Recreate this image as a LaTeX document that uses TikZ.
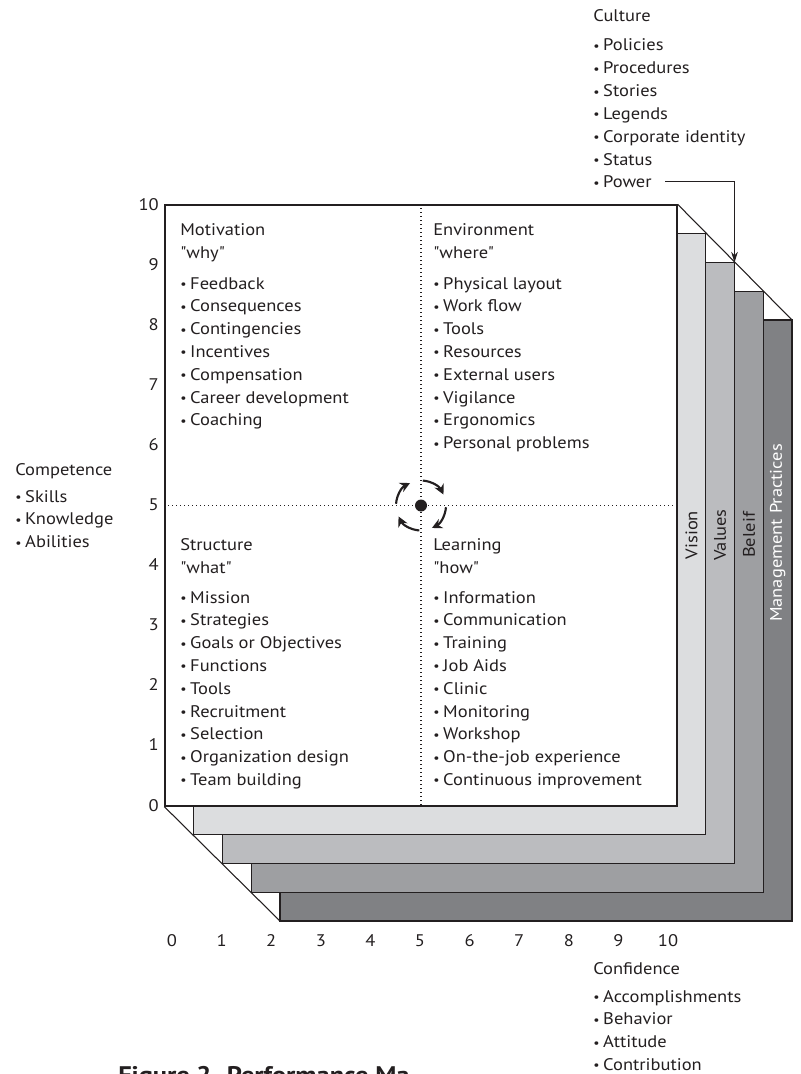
\documentclass[tikz,border=0pt]{standalone}
\usepackage{fontspec}
\newfontfamily\mainf{PT Sans}[FakeStretch=1.1]
\newfontfamily\capf{PT Sans}[FakeStretch=1.1]
\usetikzlibrary{arrows.meta}
\definecolor{ink}{HTML}{231F20}
\definecolor{visfill}{HTML}{DCDDDF}
\definecolor{valfill}{HTML}{BBBCBF}
\definecolor{belfill}{HTML}{9E9FA2}
\definecolor{mgtfill}{HTML}{808184}
\newcommand{\bul}{\raisebox{0.05ex}{\scalebox{0.75}{\textbullet}}\hspace{0.22em}}
\newcommand{\mybulletlist}[4]{%
  \foreach \t [count=\i] in {#4}
    \node[txt] (#3\i) at (#1, #2+22.8*\i-22.8) {\bul\t};}
\begin{document}
\begin{tikzpicture}[x=0.75pt,y=-0.75pt,
  txt/.style={font=\mainf\fontsize{12.6}{15}\selectfont, text=ink, inner sep=0pt, anchor=base west},
  num/.style={font=\mainf\fontsize{12.6}{15}\selectfont, text=ink, inner sep=0pt, anchor=base},
  layer/.style={draw=ink, line width=0.8pt},
  vlabel/.style={font=\mainf\fontsize{12.6}{15}\selectfont, inner sep=0pt, rotate=90},
  mainbox/.style={draw=ink, line width=1pt, fill=white, minimum width=384pt, minimum height=450.75pt, inner sep=0pt},
  dotline/.style={ink, line width=0.8pt, dash pattern=on 0.8pt off 2.2pt},
  circarrow/.style={ink, line width=1.6pt, -{Stealth[length=7.5pt,width=7.5pt]}},
  pointer/.style={ink, line width=0.8pt, -{Stealth[length=8pt,width=5pt]}}
]
\useasboundingbox (0,0) rectangle (800,1074);

% stacked layers, back to front
\foreach \k/\col in {4/mgtfill,3/belfill,2/valfill,1/visfill}
  \draw[layer, fill=\col] (165+\k*28.75, 205+\k*28.75) rectangle (677+\k*28.75, 806+\k*28.75);

\coordinate (backNE) at (792,320);
\coordinate (backSW) at (280,921);
\coordinate (valNE) at (734.5,262.5);

% main box
\node[mainbox] (box) at (421,505.5) {};
\draw[ink, line width=0.8pt] (box.north east) -- (backNE);
\draw[ink, line width=0.8pt] (box.south west) -- (backSW);
\draw[dotline] (box.north) -- (box.south);
\draw[dotline] (box.west) -- (box.east);

% layer labels
\node[vlabel, text=ink] (vision) at (691.4,535) {Vision};
\node[vlabel, text=ink] (values) at (720.1,535) {Values};
\node[vlabel, text=ink] (beleif) at (748.9,535) {Beleif};
\node[vlabel, text=white] (mgmt) at (777.6,533) {Management Practices};

% centre
\node[circle, fill=ink, minimum size=9pt, inner sep=0pt] (dot) at (421,505.5) {};
\foreach \a in {-176,-86,4,94}
  \draw[circarrow] (dot.center) ++(\a:25) arc[start angle=\a, end angle=\a+60, radius=25];

% axis numbers
\foreach \k in {0,...,10}
  \node[num, anchor=base east] (yl\k) at (159, 811-60.1*\k) {\k};
\foreach \k in {0,...,10}
  \node[num] (xl\k) at (172+49.6*\k, 946) {\k};

% quadrants
\node[txt] (mot) at (180,235) {Motivation};
\node[txt] (why) at (180,258) {"why"};
\mybulletlist{180}{289}{m}{Feedback,Consequences,Contingencies,Incentives,Compensation,Career development,Coaching}

\node[txt] (env) at (433,235) {Environment};
\node[txt] (where) at (433,258) {"where"};
\mybulletlist{433}{289}{e}{Physical layout,Work flow,Tools,Resources,External users,Vigilance,Ergonomics,Personal problems}

\node[txt] (str) at (180,550) {Structure};
\node[txt] (what) at (180,573) {"what"};
\mybulletlist{180}{603}{s}{Mission,Strategies,Goals or Objectives,Functions,Tools,Recruitment,Selection,Organization design,Team building}

\node[txt] (lrn) at (433,550) {Learning};
\node[txt] (how) at (433,573) {"how"};
\mybulletlist{433}{603}{l}{Information,Communication,Training,Job Aids,Clinic,Monitoring,Workshop,On-the-job experience,Continuous improvement}

% culture
\node[txt] (cult) at (593,22) {Culture};
\mybulletlist{593}{51}{c}{Policies,Procedures,Stories,Legends,Corporate identity,Status,Power}
\draw[pointer] ([xshift=10pt]c7.east) -| (valNE);

% competence
\node[txt] (comp) at (15,475) {Competence};
\mybulletlist{15}{502}{k}{Skills,Knowledge,Abilities}

% confidence
\node[txt] (conf) at (593,974) {Confidence};
\mybulletlist{593}{1002}{f}{Accomplishments,Behavior,Attitude,Contribution}

% caption (cut by the page edge)
\node[anchor=base west, inner sep=0pt, text=ink, font=\capf\bfseries\fontsize{18}{20}\selectfont] (caption) at (118,1083) {Figure 2. Performance Ma};
\end{tikzpicture}
\end{document}
